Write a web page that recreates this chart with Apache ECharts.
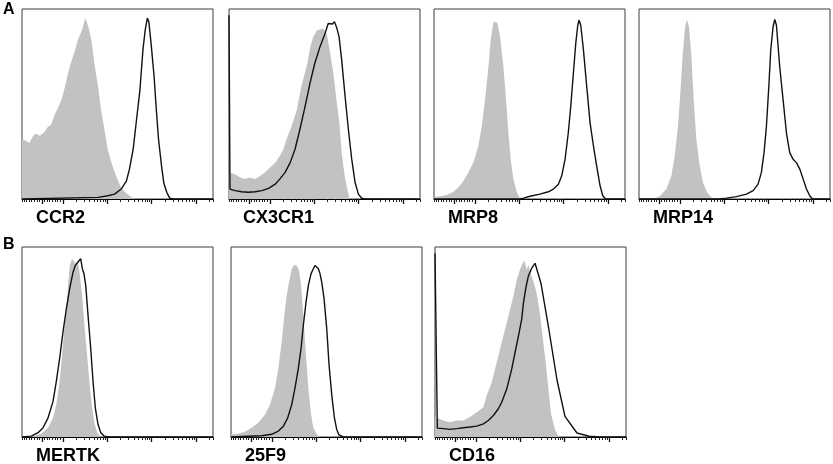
<!DOCTYPE html>
<html>
<head>
<meta charset="utf-8">
<script src="https://cdn.jsdelivr.net/npm/echarts@6/dist/echarts.min.js"></script>
<style>
  html, body { margin: 0; padding: 0; background: #fff; }
  #chart { width: 833px; height: 464px; }
</style>
</head>
<body>
<div id="chart"></div>
<script>
// 直方图数据: [通道, 相对计数(% of max)]
const ccr2Iso = [[0,33],[1,33],[6,32],[10,31],[15,35],[19,36],[24,35],[30,37],[35,40],[39,41],[44,47],[48,50],[53,55],[57,61],[62,70],[66,76],[71,82],[75,88],[80,93],[85,100],[89,95],[93,88],[97,75],[102,62],[106,49],[111,37],[115,27],[120,20],[124,15],[129,10],[133,6],[140,3],[147,1],[151,0],[256,0]];
const ccr2Stain = [[0,0],[102,0.9],[115,1.8],[124,2.7],[133,5.5],[140,10],[144,16.5],[149,27.5],[153,42],[158,60],[162,82],[165,93],[168,100],[170,98],[173,86],[177,68],[180,49.5],[183,33],[187,18.3],[190,9],[194,3.7],[198,0.5],[203,0],[256,0]];

const cx3cr1Iso = [[0,14.6],[1,14.6],[8,13.7],[15,11.9],[21,11],[28,11.9],[35,11],[42,12.8],[48,14.6],[55,17.4],[62,20.1],[68,23.8],[73,27.5],[77,32.9],[84,40.3],[91,49.4],[97,62.2],[104,73.2],[109,84.2],[113,89.7],[118,93.3],[122,93.7],[126,94.2],[131,91.5],[135,82],[140,69],[144,55],[148,42],[151,25.6],[155,12.8],[160,2.7],[162,0],[256,0]];
const cx3cr1Stain = [[0,101.6],[1.3,5.5],[8,4.6],[17,4],[26,3.7],[35,4],[44,4.6],[53,5.9],[62,8.2],[68,11],[75,14.6],[82,20.1],[88.5,27.5],[95,38.4],[102,51.2],[108.6,64],[115,75],[122,84.2],[128.7,91.5],[133,97],[135.4,98],[138.6,96.7],[141.3,98],[144.4,94.6],[147.5,89.7],[151,76.9],[155.6,56.7],[160,38.4],[164.5,22],[169,9.1],[173.4,2.7],[178,0.4],[182,0],[256,0]];

const mrp8Iso = [[0,1],[1.3,0.9],[8,1.5],[17,2.2],[26,4],[32.6,6.4],[39.3,10],[46,14.6],[52.7,20.1],[59.5,29.3],[64,40.3],[68.4,54.9],[73,73.2],[76,87.8],[79.6,97.9],[82.2,98.8],[84.9,97.4],[88.5,89.7],[93,73.2],[96.6,54.9],[99.7,36.6],[102.8,21.9],[106.4,11],[111,3.7],[115.3,0.4],[120,0],[256,0]];
const mrp8Stain = [[0,0],[115,0],[120,0.5],[128.7,1.5],[142,2.7],[153.3,4],[160,5.5],[166.7,8.2],[171.2,12.8],[175.7,22],[180,36.6],[183.3,51.2],[186.8,69.5],[190,86],[192.7,96],[194.4,98.8],[196.7,96],[200.3,82.4],[204.7,62.2],[209.2,42.1],[213.7,29.3],[218,18.3],[222.6,7.3],[226.2,1.8],[229.8,0],[256,0]];

const mrp14Iso = [[0,0],[18.8,0],[27.7,1.5],[36.7,5.5],[43.4,12.8],[47.8,23.8],[52.3,40.3],[55.4,58.6],[58.1,76.9],[61.2,93.3],[63.9,99.2],[67.1,95.2],[70.2,78.7],[73.3,54.9],[76.9,32.9],[81.4,18.3],[85.8,9.1],[91.2,3.7],[97,0.9],[101.5,0],[256,0]];
const mrp14Stain = [[0,0],[108,0],[117,0.5],[130.5,1.3],[144,2.7],[153,4.6],[159.6,8.2],[164,14.6],[167.6,25.6],[170.8,40.3],[174,62.2],[176.6,82.4],[179.7,95.2],[182,99.2],[184.2,96],[188.6,73.2],[193.1,54.9],[197.6,36.6],[202,25.6],[206.5,22],[211,20.1],[215.5,16.5],[220,11],[224.4,5.5],[228.9,1.8],[232.5,0],[256,0]];

const mertkIso = [[0,0],[3.6,0],[17,0.5],[25.9,1.8],[34.9,5.1],[41.6,10.6],[46,17.9],[50.5,30.7],[54.1,47.2],[57.2,61.9],[59.5,70.9],[61.7,83.8],[63.9,94.8],[67.1,98.5],[69.7,97.6],[72,95.8],[75.1,96.7],[77.3,90.3],[80.9,76.5],[84,60],[87.6,43.6],[90.7,28.9],[93.9,16],[97.4,7],[101,2.4],[105.5,0],[256,0]];
const mertkStain = [[0,0],[12.5,0.5],[21.5,2.4],[28.2,5.1],[34.9,10.6],[41.6,19.7],[46,30.7],[50.5,43.6],[55,58.2],[59.5,71],[63.9,82],[68.4,91.1],[71.5,94.8],[74.2,96.3],[76.4,95.8],[78.7,98.5],[80.9,93],[83.1,90.2],[85.4,83.8],[88.5,67.3],[92.1,49],[95.2,30.7],[98.3,16],[101.9,7],[105.5,2.4],[110,0.5],[117.6,0],[256,0]];

const f259Iso = [[0,1.5],[1,1.5],[9.8,1.8],[18.8,2.9],[27.7,5.1],[36.7,7.9],[45.6,12.5],[52.3,17.9],[59,27.1],[63.5,38.1],[67.9,52.7],[71.5,67.3],[74.7,78.3],[77.8,85.6],[81.4,92.9],[85,95.2],[88.1,94.8],[91.2,92],[93.9,83.8],[97,67.3],[100.1,47.2],[103.7,27.1],[107.3,12.4],[110.4,5.1],[114.9,1.5],[119.3,0],[256,0]];
const f259Stain = [[0,0],[23.2,0.4],[41.1,0.7],[54.5,1.5],[63.5,3.3],[70.2,6],[76,10.6],[81.4,17.9],[85.8,27.1],[90.3,38.1],[93.9,49.1],[97,61.9],[100.6,74.7],[103.7,83.8],[107.3,90.3],[110.4,93],[112.6,94.8],[114.9,95.8],[117.1,93],[119.3,90.3],[121.6,85.6],[124.7,76.5],[128.3,60],[131.4,39.9],[135,23.4],[138.6,10.6],[141.7,4.2],[144.8,1.1],[150.6,0],[256,0]];

const cd16Iso = [[0,11],[2.2,10],[11.2,9.1],[20.1,8.2],[29.1,9.1],[38,9.1],[46.9,11],[55.9,13.7],[64.8,16.5],[69.3,22.9],[76,30.2],[82.7,41.2],[89.4,52.2],[96.1,63.2],[100.6,70.5],[105,77.8],[109.5,86.9],[114,92.5],[117.6,96.2],[119.8,97.6],[122.9,92.5],[125.2,95],[128.3,90],[132,86],[136,80],[140.7,68],[148.7,40],[155.4,13],[160.8,4],[166,0],[256,0]];
const cd16Stain = [[0,101.6],[3.1,4.9],[11.2,4.6],[20.1,4.2],[29.1,4.6],[38,5.1],[46.9,5.5],[55.9,6],[64.8,7.3],[71.5,9.1],[78.2,11.9],[84.9,15.6],[89.4,19.2],[96.1,26.5],[102.8,37.5],[107.3,46.7],[111.8,55.8],[116.2,65],[118.5,74],[122,83],[125.2,89],[129.6,93.3],[134.1,96],[136.7,95],[142,85],[152.8,59],[163.5,31.5],[174.2,11.4],[190.3,2.2],[206.4,0.4],[221,0],[256,0]];

// 刻度 (log 十进制)
const majorExps = [2, 3, 4, 5];
const minorFactors = [2, 3, 4, 5, 6, 7, 8, 9];
const linearTickCount = 7;

// 面板
const panels = [
  {name: 'CCR2',   iso: ccr2Iso,   stain: ccr2Stain,   left: 22,  top: 9},
  {name: 'CX3CR1', iso: cx3cr1Iso, stain: cx3cr1Stain, left: 229, top: 9},
  {name: 'MRP8',   iso: mrp8Iso,   stain: mrp8Stain,   left: 434, top: 9},
  {name: 'MRP14',  iso: mrp14Iso,  stain: mrp14Stain,  left: 639, top: 9},
  {name: 'MERTK',  iso: mertkIso,  stain: mertkStain,  left: 22,  top: 247},
  {name: '25F9',   iso: f259Iso,   stain: f259Stain,   left: 231, top: 247},
  {name: 'CD16',   iso: cd16Iso,   stain: cd16Stain,   left: 435, top: 247},
];

const CH_MAX = 256;
const expMin = 1.08, expMax = 5.38, zeroExp = 1.53, linStep = 0.058;
const toCh = e => (e - expMin) / (expMax - expMin) * CH_MAX;

const minorTicks = [];
for (let k = 1; k <= linearTickCount; k++) {
  minorTicks.push(toCh(zeroExp - k * linStep), toCh(zeroExp + k * linStep));
}
majorExps.forEach(d => minorFactors.forEach(f => {
  const e = d + Math.log10(f);
  if (e < expMax) minorTicks.push(toCh(e));
}));
minorTicks.push(0, CH_MAX);
const majorTicks = majorExps.map(toCh).concat([toCh(zeroExp)]);

const font = '"Liberation Sans", Arial, sans-serif';
const grid = [], xAxis = [], yAxis = [], series = [], title = [];

title.push({text: 'A', left: 3, top: 2, padding: 0, textStyle: {fontSize: 16, fontWeight: 'bold', color: '#000', fontFamily: font}});
title.push({text: 'B', left: 3, top: 237, padding: 0, textStyle: {fontSize: 16, fontWeight: 'bold', color: '#000', fontFamily: font}});

panels.forEach((p, i) => {
  grid.push({left: p.left, top: p.top, width: 191, height: 190, show: true, borderColor: '#3c3c3c', borderWidth: 1});
  xAxis.push({
    gridIndex: i, type: 'value', min: 0, max: CH_MAX, position: 'bottom',
    axisLine: {show: true, lineStyle: {color: '#000', width: 1}},
    axisTick: {show: true, customValues: minorTicks, length: 3, lineStyle: {color: '#222', width: 1}},
    axisLabel: {show: false}, splitLine: {show: false}
  });
  xAxis.push({
    gridIndex: i, type: 'value', min: 0, max: CH_MAX, position: 'bottom',
    axisLine: {show: false},
    axisTick: {show: true, customValues: majorTicks, length: 5, lineStyle: {color: '#111', width: 1.3}},
    axisLabel: {show: false}, splitLine: {show: false}
  });
  yAxis.push({gridIndex: i, type: 'value', min: 0, max: 105, show: false});
  series.push({
    type: 'line', xAxisIndex: 2 * i, yAxisIndex: i, data: p.iso,
    symbol: 'none', silent: true, z: 1,
    lineStyle: {width: 0},
    areaStyle: {color: '#c2c2c2', opacity: 1}
  });
  series.push({
    type: 'line', xAxisIndex: 2 * i, yAxisIndex: i, data: p.stain,
    symbol: 'none', silent: true, z: 2,
    lineStyle: {color: '#111', width: 1.4}
  });
  title.push({
    text: p.name, left: p.left + 14, top: p.top + 200, padding: 0,
    textStyle: {fontSize: 18, fontWeight: 'bold', color: '#000', fontFamily: font}
  });
});

const chart = echarts.init(document.getElementById('chart'));
chart.setOption({
  animation: false,
  backgroundColor: '#fff',
  title: title,
  grid: grid,
  xAxis: xAxis,
  yAxis: yAxis,
  series: series
});
</script>
</body>
</html>
